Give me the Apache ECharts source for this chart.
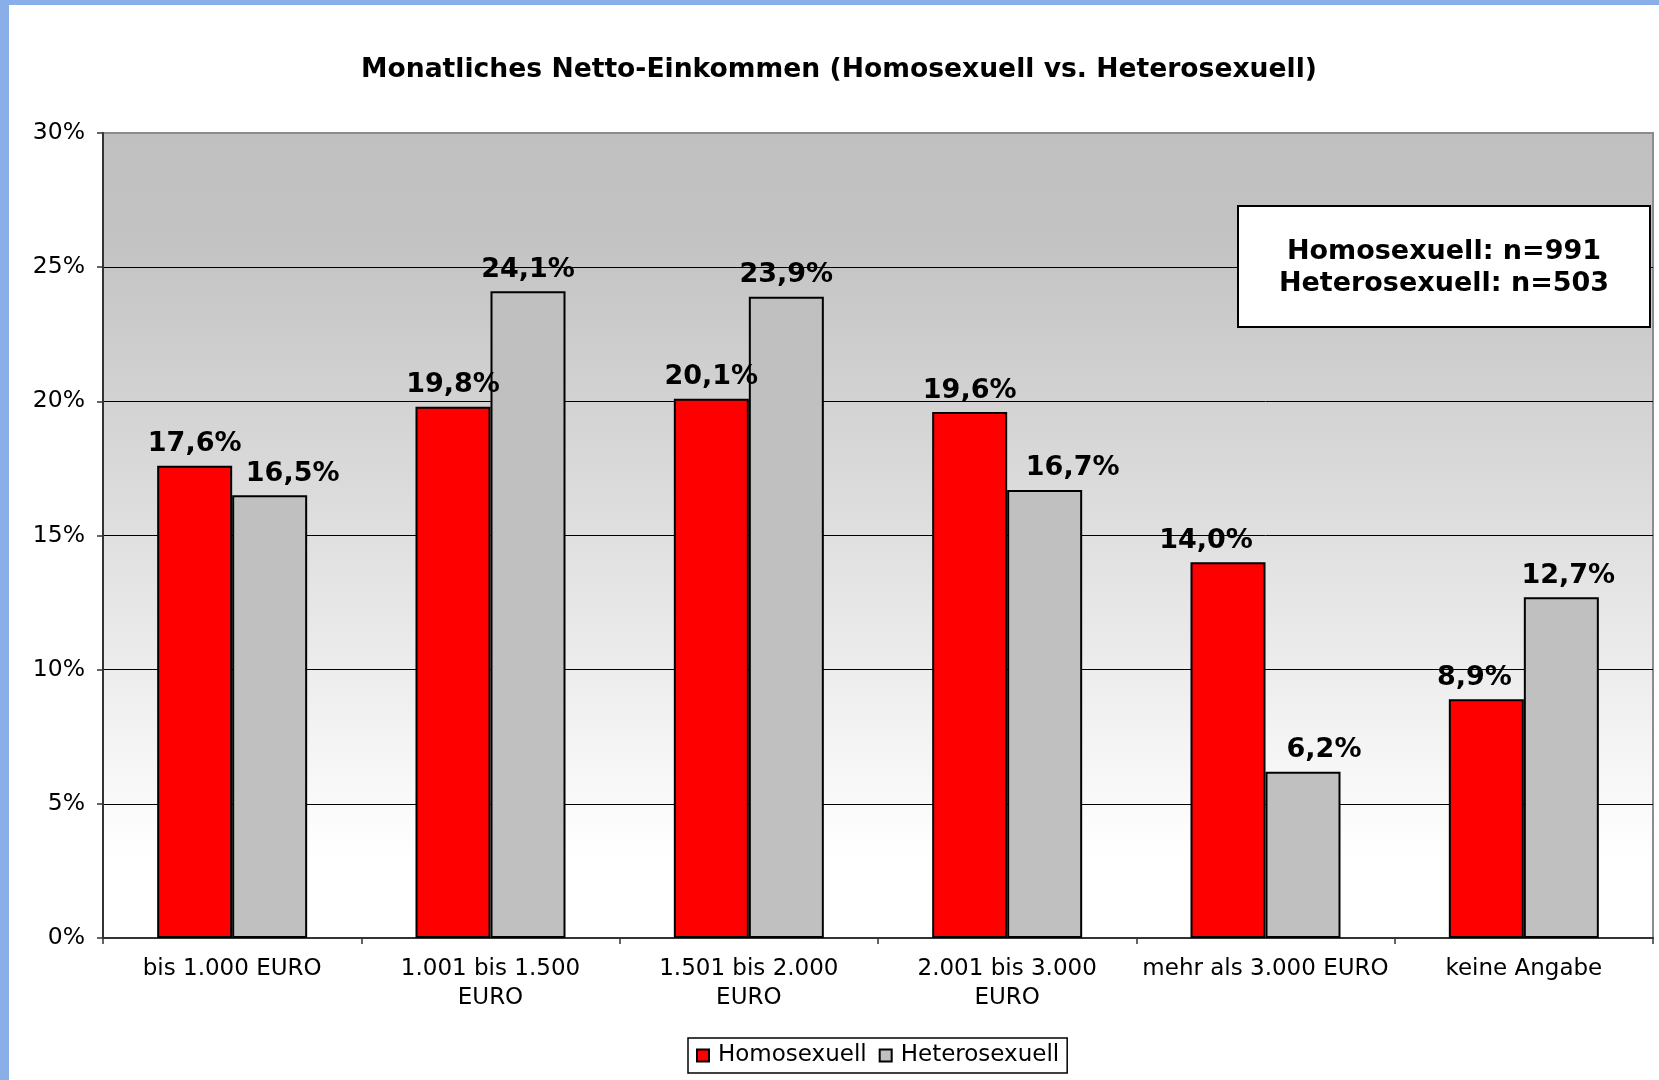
<!DOCTYPE html>
<html>
<head>
<meta charset="utf-8">
<script src="https://cdn.jsdelivr.net/npm/echarts@6/dist/echarts.min.js"></script>
<style>
  html, body { margin: 0; padding: 0; background: #fff; }
  #chart { width: 1659px; height: 1080px; }
</style>
</head>
<body>
<div id="chart"></div>
<script>
// Kategorien (Einkommensklassen)
const categories = [
  'bis 1.000 EURO',
  '1.001 bis 1.500\nEURO',
  '1.501 bis 2.000\nEURO',
  '2.001 bis 3.000\nEURO',
  'mehr als 3.000 EURO',
  'keine Angabe'
];
// Anteile in %
const homoValues = [17.6, 19.8, 20.1, 19.6, 14.0, 8.9];
const heteroValues = [16.5, 24.1, 23.9, 16.7, 6.2, 12.7];
const yTicks = [0, 5, 10, 15, 20, 25, 30];
const sampleNotes = ['Homosexuell: n=991', 'Heterosexuell: n=503'];

const font = 'DejaVu Sans, Verdana, sans-serif';

// seitliche Verschiebung der Beschriftungen (wie im Original, gegen Überlappung)
const homoShift = [0, 0, 0, 0, -22, -12];
const heteroShift = [23, 0, 0, 28, 21, 7];

function pct(v) {
  return v.toFixed(1).replace('.', ',') + '%';
}

function withShift(values, shifts) {
  return values.map((v, i) => ({
    value: v,
    label: { offset: [shifts[i], 0] }
  }));
}

const chart = echarts.init(document.getElementById('chart'));

const labelStyle = {
  show: true,
  position: 'top',
  distance: 8,
  fontFamily: font,
  fontSize: 27,
  fontWeight: 'bold',
  color: '#000',
  formatter: p => pct(p.value)
};

const option = {
  animation: false,
  backgroundColor: '#fff',
  textStyle: { fontFamily: font },
  title: {
    text: 'Monatliches Netto-Einkommen (Homosexuell vs. Heterosexuell)',
    left: 356,
    top: 52,
    textStyle: { fontFamily: font, fontSize: 26.6, fontWeight: 'bold', color: '#000' }
  },
  legend: {
    data: ['Homosexuell', 'Heterosexuell'],
    left: 688,
    top: 1038,
    padding: [6, 8, 6, 8],
    itemGap: 12,
    itemWidth: 12,
    itemHeight: 12,
    icon: 'rect',
    borderColor: '#000',
    borderWidth: 1.5,
    textStyle: { fontFamily: font, fontSize: 23, color: '#000', padding: [0, 0, 0, 4] }
  },
  grid: {
    left: 103,
    right: 6,
    top: 133,
    bottom: 142,
    show: true,
    borderColor: '#8c8c8c',
    borderWidth: 2,
    backgroundColor: {
      type: 'linear', x: 0, y: 0, x2: 0, y2: 1,
      colorStops: [
        { offset: 0, color: '#c0c0c0' },
        { offset: 0.12, color: '#c2c2c2' },
        { offset: 0.9, color: '#ffffff' },
        { offset: 1, color: '#ffffff' }
      ]
    }
  },
  xAxis: {
    type: 'category',
    data: categories,
    axisLine: { lineStyle: { color: '#333', width: 2 } },
    axisTick: { show: true, length: 6, lineStyle: { color: '#333', width: 1.5 } },
    axisLabel: {
      fontFamily: font,
      fontSize: 23,
      color: '#000',
      lineHeight: 29,
      margin: 17,
      interval: 0
    }
  },
  yAxis: {
    type: 'value',
    min: yTicks[0],
    max: yTicks[yTicks.length - 1],
    interval: yTicks[1] - yTicks[0],
    axisLine: { show: true, lineStyle: { color: '#333', width: 2 } },
    axisTick: { show: true, length: 6, lineStyle: { color: '#333', width: 1.5 } },
    axisLabel: {
      fontFamily: font,
      fontSize: 23.5,
      color: '#000',
      margin: 18,
      formatter: '{value}%'
    },
    splitLine: {
      show: true,
      showMinLine: false,
      showMaxLine: false,
      lineStyle: { color: '#000', width: 1 }
    }
  },
  series: [
    {
      name: 'Homosexuell',
      type: 'bar',
      data: withShift(homoValues, homoShift),
      barWidth: 75,
      barGap: '0%',
      itemStyle: { color: '#ff0000', borderColor: '#000', borderWidth: 2 },
      label: labelStyle
    },
    {
      name: 'Heterosexuell',
      type: 'bar',
      data: withShift(heteroValues, heteroShift),
      barWidth: 75,
      barGap: '0%',
      itemStyle: { color: '#c0c0c0', borderColor: '#000', borderWidth: 2 },
      label: labelStyle
    }
  ],
  graphic: [
    // blauer Rahmen oben und links
    { type: 'rect', shape: { x: 0, y: 0, width: 1659, height: 5 }, style: { fill: '#8aaee8' }, z: 100 },
    { type: 'rect', shape: { x: 0, y: 0, width: 9, height: 1080 }, style: { fill: '#8aaee8' }, z: 100 },
    // Stichprobenkasten
    {
      type: 'rect',
      shape: { x: 1238, y: 206, width: 412, height: 121 },
      style: { fill: '#fff', stroke: '#000', lineWidth: 2 },
      z: 50
    },
    {
      type: 'text',
      x: 1444,
      y: 252,
      z: 51,
      style: {
        text: sampleNotes[0],
        font: 'bold 27px ' + font,
        fill: '#000',
        align: 'center',
        verticalAlign: 'middle'
      }
    },
    {
      type: 'text',
      x: 1444,
      y: 284,
      z: 51,
      style: {
        text: sampleNotes[1],
        font: 'bold 27px ' + font,
        fill: '#000',
        align: 'center',
        verticalAlign: 'middle'
      }
    }
  ]
};

chart.setOption(option);
</script>
</body>
</html>
